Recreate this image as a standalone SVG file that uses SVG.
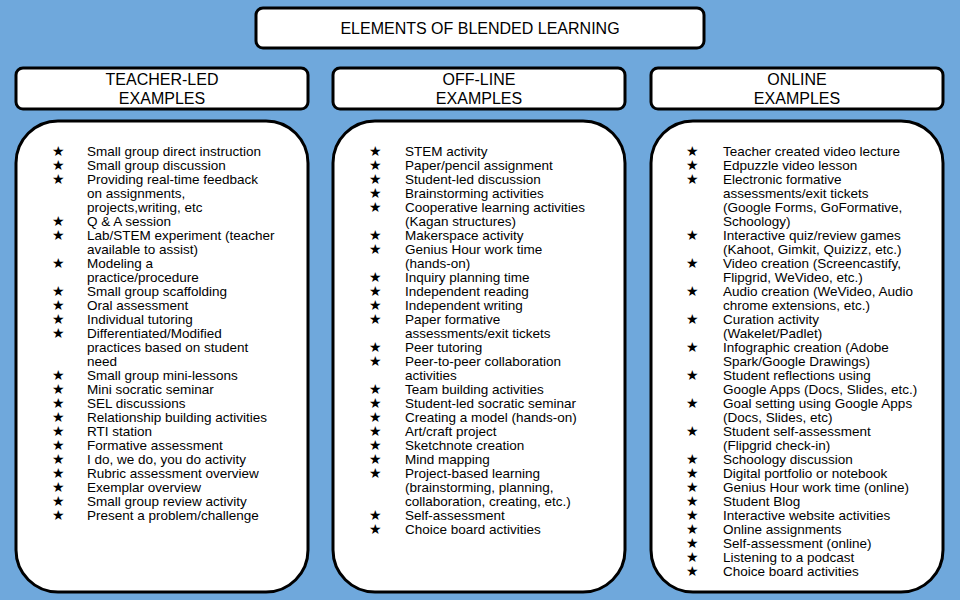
<svg xmlns="http://www.w3.org/2000/svg" width="960" height="600" viewBox="0 0 960 600">
<style>
.box{fill:#fff;stroke:#000;stroke-width:3}
.h{font-family:"Liberation Sans",Arial,sans-serif;font-size:16px;fill:#000;text-anchor:middle}
.t{font-family:"Liberation Sans",Arial,sans-serif;font-size:13.5px;fill:#000}
</style>
<rect width="960" height="600" fill="#6fa8dc"/>
<g id="title"><rect class="box" x="256" y="8" width="448" height="40" rx="7"/><text class="h" x="480" y="34">ELEMENTS OF BLENDED LEARNING</text></g>
<g id="teacher-led">
<rect class="box" x="16" y="68" width="292" height="41" rx="7"/>
<text class="h" x="162" y="85">TEACHER-LED</text><text class="h" x="162" y="104">EXAMPLES</text>
<rect class="box" x="16" y="121" width="292" height="471" rx="42"/>
<text class="t">
<tspan x="52" y="156">★</tspan><tspan x="87" y="156">Small group direct instruction</tspan>
<tspan x="52" y="170">★</tspan><tspan x="87" y="170">Small group discussion</tspan>
<tspan x="52" y="184">★</tspan><tspan x="87" y="184">Providing real-time feedback</tspan>
<tspan x="87" y="198">on assignments,</tspan>
<tspan x="87" y="212">projects,writing, etc</tspan>
<tspan x="52" y="226">★</tspan><tspan x="87" y="226">Q &amp; A session</tspan>
<tspan x="52" y="240">★</tspan><tspan x="87" y="240">Lab/STEM experiment (teacher</tspan>
<tspan x="87" y="254">available to assist)</tspan>
<tspan x="52" y="268">★</tspan><tspan x="87" y="268">Modeling a</tspan>
<tspan x="87" y="282">practice/procedure</tspan>
<tspan x="52" y="296">★</tspan><tspan x="87" y="296">Small group scaffolding</tspan>
<tspan x="52" y="310">★</tspan><tspan x="87" y="310">Oral assessment</tspan>
<tspan x="52" y="324">★</tspan><tspan x="87" y="324">Individual tutoring</tspan>
<tspan x="52" y="338">★</tspan><tspan x="87" y="338">Differentiated/Modified</tspan>
<tspan x="87" y="352">practices based on student</tspan>
<tspan x="87" y="366">need</tspan>
<tspan x="52" y="380">★</tspan><tspan x="87" y="380">Small group mini-lessons</tspan>
<tspan x="52" y="394">★</tspan><tspan x="87" y="394">Mini socratic seminar</tspan>
<tspan x="52" y="408">★</tspan><tspan x="87" y="408">SEL discussions</tspan>
<tspan x="52" y="422">★</tspan><tspan x="87" y="422">Relationship building activities</tspan>
<tspan x="52" y="436">★</tspan><tspan x="87" y="436">RTI station</tspan>
<tspan x="52" y="450">★</tspan><tspan x="87" y="450">Formative assessment</tspan>
<tspan x="52" y="464">★</tspan><tspan x="87" y="464">I do, we do, you do activity</tspan>
<tspan x="52" y="478">★</tspan><tspan x="87" y="478">Rubric assessment overview</tspan>
<tspan x="52" y="492">★</tspan><tspan x="87" y="492">Exemplar overview</tspan>
<tspan x="52" y="506">★</tspan><tspan x="87" y="506">Small group review activity</tspan>
<tspan x="52" y="520">★</tspan><tspan x="87" y="520">Present a problem/challenge</tspan>
</text>
</g>
<g id="off-line">
<rect class="box" x="333" y="68" width="292" height="41" rx="7"/>
<text class="h" x="479" y="85">OFF-LINE</text><text class="h" x="479" y="104">EXAMPLES</text>
<rect class="box" x="333" y="121" width="292" height="471" rx="42"/>
<text class="t">
<tspan x="369" y="156">★</tspan><tspan x="405" y="156">STEM activity</tspan>
<tspan x="369" y="170">★</tspan><tspan x="405" y="170">Paper/pencil assignment</tspan>
<tspan x="369" y="184">★</tspan><tspan x="405" y="184">Student-led discussion</tspan>
<tspan x="369" y="198">★</tspan><tspan x="405" y="198">Brainstorming activities</tspan>
<tspan x="369" y="212">★</tspan><tspan x="405" y="212">Cooperative learning activities</tspan>
<tspan x="405" y="226">(Kagan structures)</tspan>
<tspan x="369" y="240">★</tspan><tspan x="405" y="240">Makerspace activity</tspan>
<tspan x="369" y="254">★</tspan><tspan x="405" y="254">Genius Hour work time</tspan>
<tspan x="405" y="268">(hands-on)</tspan>
<tspan x="369" y="282">★</tspan><tspan x="405" y="282">Inquiry planning time</tspan>
<tspan x="369" y="296">★</tspan><tspan x="405" y="296">Independent reading</tspan>
<tspan x="369" y="310">★</tspan><tspan x="405" y="310">Independent writing</tspan>
<tspan x="369" y="324">★</tspan><tspan x="405" y="324">Paper formative</tspan>
<tspan x="405" y="338">assessments/exit tickets</tspan>
<tspan x="369" y="352">★</tspan><tspan x="405" y="352">Peer tutoring</tspan>
<tspan x="369" y="366">★</tspan><tspan x="405" y="366">Peer-to-peer collaboration</tspan>
<tspan x="405" y="380">activities</tspan>
<tspan x="369" y="394">★</tspan><tspan x="405" y="394">Team building activities</tspan>
<tspan x="369" y="408">★</tspan><tspan x="405" y="408">Student-led socratic seminar</tspan>
<tspan x="369" y="422">★</tspan><tspan x="405" y="422">Creating a model (hands-on)</tspan>
<tspan x="369" y="436">★</tspan><tspan x="405" y="436">Art/craft project</tspan>
<tspan x="369" y="450">★</tspan><tspan x="405" y="450">Sketchnote creation</tspan>
<tspan x="369" y="464">★</tspan><tspan x="405" y="464">Mind mapping</tspan>
<tspan x="369" y="478">★</tspan><tspan x="405" y="478">Project-based learning</tspan>
<tspan x="405" y="492">(brainstorming, planning,</tspan>
<tspan x="405" y="506">collaboration, creating, etc.)</tspan>
<tspan x="369" y="520">★</tspan><tspan x="405" y="520">Self-assessment</tspan>
<tspan x="369" y="534">★</tspan><tspan x="405" y="534">Choice board activities</tspan>
</text>
</g>
<g id="online">
<rect class="box" x="651" y="68" width="292" height="41" rx="7"/>
<text class="h" x="797" y="85">ONLINE</text><text class="h" x="797" y="104">EXAMPLES</text>
<rect class="box" x="651" y="121" width="292" height="471" rx="42"/>
<text class="t">
<tspan x="686" y="156">★</tspan><tspan x="723" y="156">Teacher created video lecture</tspan>
<tspan x="686" y="170">★</tspan><tspan x="723" y="170">Edpuzzle video lesson</tspan>
<tspan x="686" y="184">★</tspan><tspan x="723" y="184">Electronic formative</tspan>
<tspan x="723" y="198">assessments/exit tickets</tspan>
<tspan x="723" y="212">(Google Forms, GoFormative,</tspan>
<tspan x="723" y="226">Schoology)</tspan>
<tspan x="686" y="240">★</tspan><tspan x="723" y="240">Interactive quiz/review games</tspan>
<tspan x="723" y="254">(Kahoot, Gimkit, Quizizz, etc.)</tspan>
<tspan x="686" y="268">★</tspan><tspan x="723" y="268">Video creation (Screencastify,</tspan>
<tspan x="723" y="282">Flipgrid, WeVideo, etc.)</tspan>
<tspan x="686" y="296">★</tspan><tspan x="723" y="296">Audio creation (WeVideo, Audio</tspan>
<tspan x="723" y="310">chrome extensions, etc.)</tspan>
<tspan x="686" y="324">★</tspan><tspan x="723" y="324">Curation activity</tspan>
<tspan x="723" y="338">(Wakelet/Padlet)</tspan>
<tspan x="686" y="352">★</tspan><tspan x="723" y="352">Infographic creation (Adobe</tspan>
<tspan x="723" y="366">Spark/Google Drawings)</tspan>
<tspan x="686" y="380">★</tspan><tspan x="723" y="380">Student reflections using</tspan>
<tspan x="723" y="394">Google Apps (Docs, Slides, etc.)</tspan>
<tspan x="686" y="408">★</tspan><tspan x="723" y="408">Goal setting using Google Apps</tspan>
<tspan x="723" y="422">(Docs, Slides, etc)</tspan>
<tspan x="686" y="436">★</tspan><tspan x="723" y="436">Student self-assessment</tspan>
<tspan x="723" y="450">(Flipgrid check-in)</tspan>
<tspan x="686" y="464">★</tspan><tspan x="723" y="464">Schoology discussion</tspan>
<tspan x="686" y="478">★</tspan><tspan x="723" y="478">Digital portfolio or notebook</tspan>
<tspan x="686" y="492">★</tspan><tspan x="723" y="492">Genius Hour work time (online)</tspan>
<tspan x="686" y="506">★</tspan><tspan x="723" y="506">Student Blog</tspan>
<tspan x="686" y="520">★</tspan><tspan x="723" y="520">Interactive website activities</tspan>
<tspan x="686" y="534">★</tspan><tspan x="723" y="534">Online assignments</tspan>
<tspan x="686" y="548">★</tspan><tspan x="723" y="548">Self-assessment (online)</tspan>
<tspan x="686" y="562">★</tspan><tspan x="723" y="562">Listening to a podcast</tspan>
<tspan x="686" y="576">★</tspan><tspan x="723" y="576">Choice board activities</tspan>
</text>
</g>
<g id="connectors"/>
</svg>
